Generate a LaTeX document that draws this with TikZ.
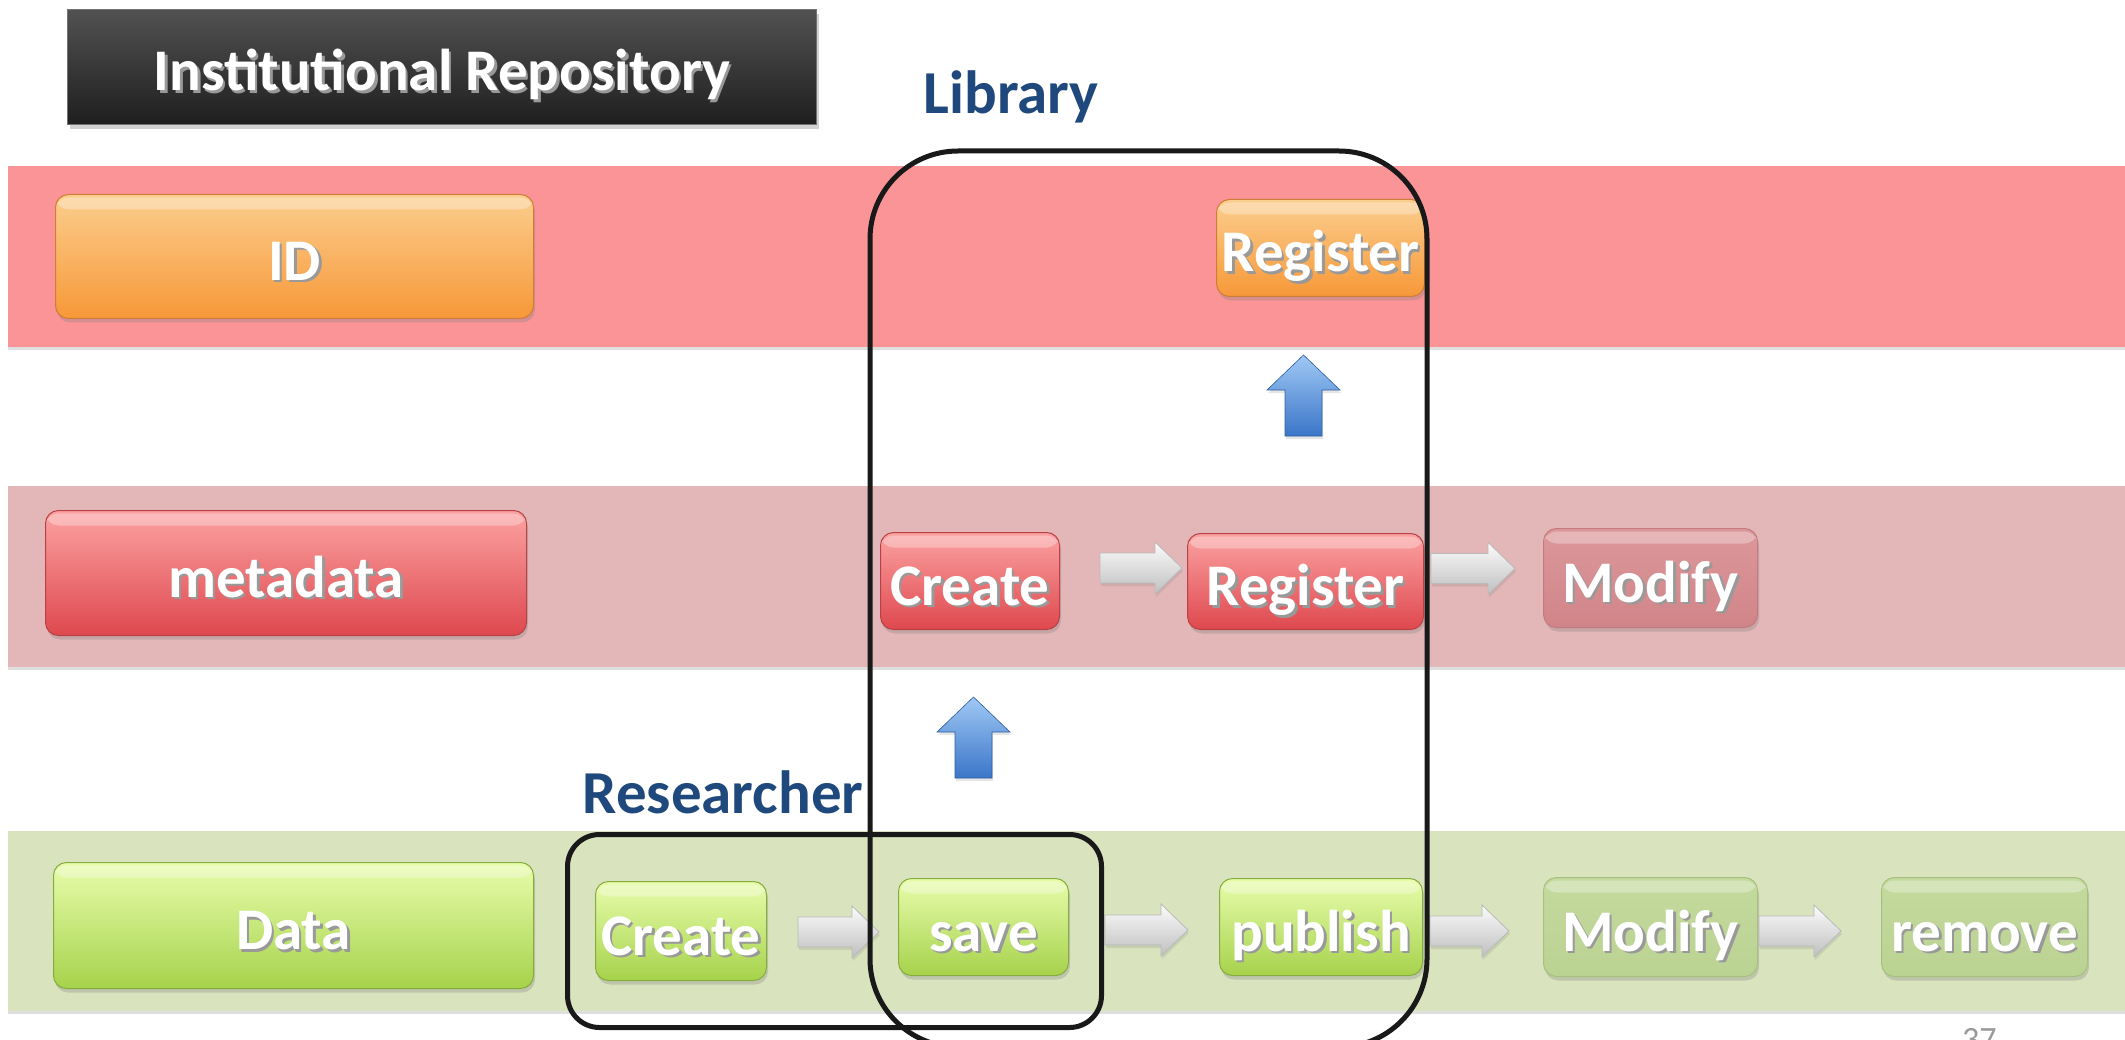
\documentclass[tikz,border=0pt]{standalone}
\usepackage{fontspec}
\setmainfont{Carlito}
\usetikzlibrary{calc,shadows}
\definecolor{bandA}{RGB}{250,148,150}
\definecolor{bandB}{RGB}{227,182,183}
\definecolor{bandC}{RGB}{217,227,190}
\definecolor{orT}{RGB}{251,206,142}
\definecolor{orB}{RGB}{247,152,56}
\definecolor{orE}{RGB}{205,125,55}
\definecolor{rdT}{RGB}{252,162,162}
\definecolor{rdB}{RGB}{222,72,78}
\definecolor{rdE}{RGB}{185,65,68}
\definecolor{mrT}{RGB}{220,152,155}
\definecolor{mrB}{RGB}{208,132,136}
\definecolor{mrE}{RGB}{196,122,126}
\definecolor{grT}{RGB}{232,253,172}
\definecolor{grB}{RGB}{166,210,75}
\definecolor{grE}{RGB}{132,172,62}
\definecolor{mgT}{RGB}{196,218,158}
\definecolor{mgB}{RGB}{186,210,146}
\definecolor{mgE}{RGB}{166,192,126}
\definecolor{navy}{RGB}{31,73,125}
\definecolor{blT}{RGB}{160,200,245}
\definecolor{blB}{RGB}{58,118,200}
\newcommand\boxfont{\fontsize{59}{62}\selectfont\bfseries}
\newcommand\lblfont{\fontsize{61}{64}\selectfont\bfseries}
\newcommand\shtxt[1]{\makebox[0pt][l]{\hspace*{2.5pt}\raisebox{-2.5pt}{\textcolor{black!40}{#1}}}#1}
\tikzset{
  band/.style={anchor=north west, inner sep=0pt, draw=none,
    drop shadow={shadow xshift=0pt, shadow yshift=-3pt, opacity=0.25}},
  gbox/.style={anchor=north west, rounded corners=13pt, inner sep=0pt, line width=1pt,
    font=\boxfont, text=white, text height=58pt, text depth=10pt,
    drop shadow={shadow xshift=1.5pt, shadow yshift=-4pt, opacity=0.3},
    path picture={\fill[white,opacity=0.3]
      ($(path picture bounding box.north west)+(0,3)$) rectangle
      ($(path picture bounding box.north east)+(0,15)$);}},
  orbox/.style={gbox, top color=orT, bottom color=orB, draw=orE},
  rdbox/.style={gbox, top color=rdT, bottom color=rdB, draw=rdE},
  mrbox/.style={gbox, top color=mrT, bottom color=mrB, draw=mrE},
  grbox/.style={gbox, top color=grT, bottom color=grB, draw=grE},
  mgbox/.style={gbox, top color=mgT, bottom color=mgB, draw=mgE},
  titlebox/.style={anchor=north west, inner sep=0pt, font=\boxfont, text=white,
    text height=58pt, text depth=10pt,
    top color=black!68, bottom color=black!88, draw=black!55, line width=1pt,
    drop shadow={shadow xshift=2pt, shadow yshift=-5pt, opacity=0.35}},
  lbl/.style={font=\lblfont, text=navy, inner sep=0pt},
  frame/.style={anchor=north west, draw=black!90, line width=5pt, inner sep=0pt},
  grayarr/.style={top color=gray!3, bottom color=gray!50, draw=gray!55, line width=0.8pt,
    drop shadow={shadow xshift=1pt, shadow yshift=-3pt, opacity=0.2}},
  bluearr/.style={top color=blT, bottom color=blB, draw=blB!80!black, line width=0.6pt,
    drop shadow={shadow xshift=1pt, shadow yshift=-3pt, opacity=0.2}},
}
\newcommand\greyarrow[5]{%
  \path[grayarr] let \p1=($(#1.east)+(#3,#5)$), \p2=($(#2.west)+(-#4,#5)$) in
    ({\x1},{\y1+15pt}) -- ({\x2-27pt},{\y1+15pt}) -- ({\x2-27pt},{\y1+26pt}) --
    ({\x2},{\y1}) -- ({\x2-27pt},{\y1-26pt}) -- ({\x2-27pt},{\y1-15pt}) --
    ({\x1},{\y1-15pt}) -- cycle;}
\newcommand\bluearrow[2]{%
  \path[bluearr] let \p1=(#1), \p2=(#2) in
    ({\x1-18.5pt},{\y1}) -- ({\x1-18.5pt},{\y2-35pt}) -- ({\x1-36.5pt},{\y2-35pt}) --
    ({\x1},{\y2}) -- ({\x1+36.5pt},{\y2-35pt}) -- ({\x1+18.5pt},{\y2-35pt}) --
    ({\x1+18.5pt},{\y1}) -- cycle;}
\begin{document}
\begin{tikzpicture}[x=1pt,y=-1pt]
\useasboundingbox (0,0) rectangle (2125,1040);
\fill[white] (0,0) rectangle (2125,1040);
% bands
\node[band, fill=bandA, minimum width=2130pt, minimum height=181pt] (bandid) at (8,166) {};
\node[band, fill=bandB, minimum width=2130pt, minimum height=181pt] (bandmeta) at (8,486) {};
\node[band, fill=bandC, minimum width=2130pt, minimum height=180pt] (banddata) at (8,831) {};
% title
\node[titlebox, minimum width=749pt, minimum height=115pt] (title) at (67,9) {\shtxt{Institutional Repository}};
\node[lbl] (lib) at (1011,97) {Library};
\node[lbl] (res) at (723,792) {Researcher};
% ID row
\node[orbox, minimum width=478pt, minimum height=124pt] (id) at (55,194) {\shtxt{ID}};
\node[orbox, minimum width=208pt, minimum height=97pt] (ireg) at (1216,199) {\shtxt{Register}};
% metadata row
\node[rdbox, minimum width=481pt, minimum height=125pt] (meta) at (45,510) {\shtxt{metadata}};
\node[rdbox, minimum width=179pt, minimum height=97pt] (mcreate) at (880,532) {\shtxt{Create}};
\node[rdbox, minimum width=236pt, minimum height=96pt] (mreg) at (1187,533) {\shtxt{Register}};
\node[mrbox, minimum width=214pt, minimum height=99pt] (mmod) at (1543,528) {\shtxt{Modify}};
% data row
\node[grbox, minimum width=480pt, minimum height=126pt] (data) at (53,862) {\shtxt{Data}};
\node[grbox, minimum width=171pt, minimum height=99pt] (dcreate) at (595,881) {\shtxt{Create}};
\node[grbox, minimum width=170pt, minimum height=97pt] (dsave) at (898,878) {\shtxt{save}};
\node[grbox, minimum width=203pt, minimum height=97pt] (dpub) at (1219,878) {\shtxt{publish}};
\node[mgbox, minimum width=214pt, minimum height=99pt] (dmod) at (1543,877) {\shtxt{Modify}};
\node[mgbox, minimum width=206pt, minimum height=99pt] (drem) at (1881,877) {\shtxt{remove}};
% grey block arrows
\greyarrow{mcreate}{mreg}{40}{5}{-13}
\greyarrow{mreg}{mmod}{7}{28}{-13}
\greyarrow{dcreate}{dsave}{31}{19}{1}
\greyarrow{dsave}{dpub}{36}{31}{3}
\greyarrow{dpub}{dmod}{7}{34}{4}
\greyarrow{dmod}{drem}{1}{40}{4}
% blue up arrows
\coordinate (ua1s) at (1303.5,436);
\coordinate (ua1e) at (1303.5,355);
\coordinate (ua2s) at (973.5,778);
\coordinate (ua2e) at (973.5,697);
\bluearrow{ua1s}{ua1e}
\bluearrow{ua2s}{ua2e}
% group frames
\node[frame, rounded corners=32pt, minimum width=534pt, minimum height=193pt] (resframe) at (565,832) {};
\node[frame, rounded corners=88pt, minimum width=557pt, minimum height=896pt] (libframe) at (867.5,148.5) {};
% page number (cut off at the page edge, as in the original)
\node[anchor=north west, inner sep=0pt, text=gray!80, font=\fontsize{34}{36}\selectfont] (pgno) at (1962,1028) {37};
\end{tikzpicture}
\end{document}
